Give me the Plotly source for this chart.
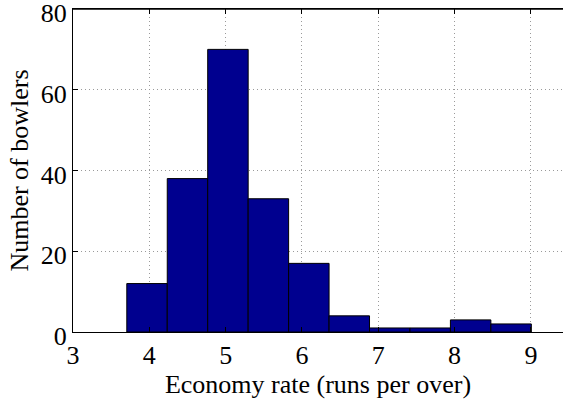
import plotly.graph_objects as go

# Histogram of bowler economy rates (10 equal-width bins)
bin_centers = [3.97, 4.50, 5.03, 5.56, 6.09, 6.62, 7.15, 7.68, 8.21, 8.74]
bin_width = 0.53
counts = [12, 38, 70, 33, 17, 4, 1, 1, 3, 2]

x_ticks = [3, 4, 5, 6, 7, 8, 9]
y_ticks = [0, 20, 40, 60, 80]

FONT = "Liberation Serif, Times New Roman, serif"
font = dict(family=FONT, size=26, color="black")

fig = go.Figure(
    go.Bar(
        x=bin_centers,
        y=counts,
        width=bin_width,
        marker=dict(color="#00008f", line=dict(color="black", width=1)),
    )
)

fig.update_layout(
    width=563,
    height=399,
    margin=dict(l=73, r=0, t=9, b=67, autoexpand=False),
    paper_bgcolor="white",
    plot_bgcolor="white",
    showlegend=False,
    font=font,
)

grid = dict(showgrid=True, gridcolor="#9a9a9a", griddash="1px,3px", gridwidth=1)

fig.update_xaxes(
    range=[3, 9.42],
    tickvals=x_ticks,
    ticktext=[str(v) for v in x_ticks],
    ticks="inside",
    ticklen=5,
    tickcolor="black",
    showline=True,
    linecolor="black",
    linewidth=1.3,
    mirror="ticks",
    zeroline=False,
    automargin=False,
    tickfont=font,
    ticklabeloverflow="allow",
    title=dict(text="Economy rate (runs per over)", font=font, standoff=2),
    **grid,
)

fig.update_yaxes(
    range=[0, 80],
    tickvals=y_ticks,
    ticktext=[str(v) for v in y_ticks],
    ticks="inside",
    ticklen=5,
    tickcolor="black",
    showline=True,
    linecolor="black",
    linewidth=1.3,
    mirror=False,
    zeroline=False,
    automargin=False,
    tickfont=font,
    ticklabeloverflow="allow",
    ticklabelshift=4,
    title=dict(text="Number of bowlers", font=font, standoff=4),
    **grid,
)

# top border of the axes box
fig.add_shape(
    type="line", xref="paper", yref="paper",
    x0=0, x1=1, y0=1, y1=1,
    line=dict(color="black", width=1.3),
)

fig.write_html("out.html")
